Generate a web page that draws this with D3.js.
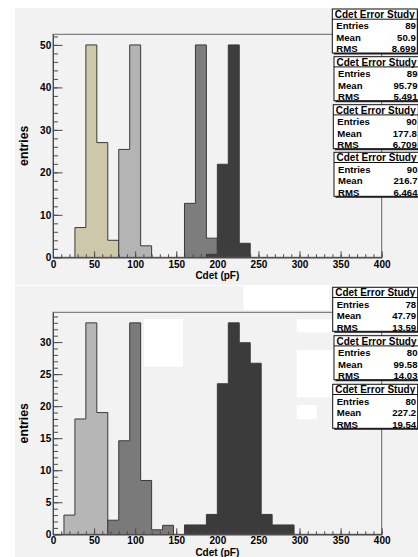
<!DOCTYPE html>
<html><head><meta charset="utf-8">
<script src="https://cdn.jsdelivr.net/npm/d3@7"></script>
<style>
body{margin:0;background:#fff}
svg{display:block}
text{font-family:"Liberation Sans",Arial,Helvetica,sans-serif;font-weight:bold;fill:#000}
</style>
</head><body>
<svg id="c" width="418" height="557"></svg>
<script>
// ---------- data ----------
const nBins = 30, xMin = 0, xMax = 400;
const xTicks = [0, 50, 100, 150, 200, 250, 300, 350, 400];
const xTitle = "Cdet (pF)";
const yTitle = "entries";
const statsTitle = "Cdet Error Study";
const statsLabels = ["Entries", "Mean", "RMS"];

// top panel histograms (first bin index + bin contents)
const topFirstBin = [2, 6, 12, 14];
const topH1 = [7, 50, 27, 4];
const topH2 = [25.4, 50, 2.7];
const topH3 = [12.7, 50, 4.5];
const topH4 = [0.7, 21.9, 50, 3.3];
const topYMax = 52.5;
const topYTicks = [0, 10, 20, 30, 40, 50];
const topEntries = ["89", "89", "90", "90"];
const topMean = ["50.9", "95.79", "177.8", "216.7"];
const topRMS = ["8.699", "5.491", "6.709", "6.464"];

// bottom panel histograms
const botFirstBin = [1, 5, 12];
const botH1 = [3, 18, 33, 19];
const botH2 = [2.2, 14.6, 33, 8.4, 0.7, 1.4];
const botH3 = [1.46, 1.46, 3.1, 23.5, 33, 29.9, 26.7, 3.1, 1.46, 1.46];
const botYMax = 34.65;
const botYTicks = [0, 5, 10, 15, 20, 25, 30];
const botEntries = ["78", "80", "80"];
const botMean = ["47.79", "99.58", "227.2"];
const botRMS = ["13.59", "14.03", "19.54"];

// ---------- drawing ----------
const svg = d3.select('#c');
const bw = (xMax - xMin) / nBins;
const padColor = '#f2f2f2';
const lineColor = '#4a4a4a';

function drawPanel(p) {
  const g = svg.append('g');
  g.append('rect').attr('x', 15).attr('y', p.padTop).attr('width', 403)
    .attr('height', p.padBottom - p.padTop).attr('fill', padColor);

  const x = d3.scaleLinear().domain([xMin, xMax]).range([53, 381.7]);
  const y = d3.scaleLinear().domain([0, p.yMax]).range([p.y0, p.yTop]);

  // histograms
  p.hists.forEach(h => {
    const pts = [[xMin + h.first * bw, 0]];
    h.values.forEach((v, i) => {
      const lo = xMin + (h.first + i) * bw;
      pts.push([lo, v], [lo + bw, v]);
    });
    pts.push([xMin + (h.first + h.values.length) * bw, 0]);
    g.append('path')
      .attr('d', d3.line().x(d => x(d[0])).y(d => y(d[1]))(pts))
      .attr('fill', h.color).attr('stroke', '#3a3a3a').attr('stroke-width', 1);
  });

  // decorative white patches (bottom panel)
  (p.patches || []).forEach(r => {
    g.append('rect').attr('x', r[0]).attr('y', r[1]).attr('width', r[2] - r[0])
      .attr('height', r[3] - r[1]).attr('fill', '#fff');
  });

  // frame
  g.append('rect').attr('x', x(xMin)).attr('y', p.yTop)
    .attr('width', x(xMax) - x(xMin)).attr('height', p.y0 - p.yTop)
    .attr('fill', 'none').attr('stroke', '#666').attr('stroke-width', 1);

  // x axis
  const xMinor = d3.range(xMin, xMax + 0.001, 10);
  g.append('g').attr('transform', `translate(0,${p.y0})`)
    .call(d3.axisBottom(x).tickValues(xMinor).tickSizeInner(-3).tickSizeOuter(0).tickFormat(''));
  const gx = g.append('g').attr('transform', `translate(0,${p.y0})`)
    .call(d3.axisBottom(x).tickValues(xTicks).tickSizeInner(-6).tickSizeOuter(0).tickPadding(p.xLabPad).tickFormat(d3.format('d')));
  gx.selectAll('text').attr('font-size', 10).style('font-family', '"Liberation Sans",Arial,sans-serif').style('font-weight', 'bold');

  // y axis
  const yMinor = d3.range(0, p.yMax, p.minorStep);
  g.append('g').attr('transform', `translate(${x(xMin)},0)`)
    .call(d3.axisLeft(y).tickValues(yMinor).tickSizeInner(-5).tickSizeOuter(0).tickFormat(''));
  const gy = g.append('g').attr('transform', `translate(${x(xMin)},0)`)
    .call(d3.axisLeft(y).tickValues(p.yTicks).tickSizeInner(-9.5).tickSizeOuter(0).tickPadding(1.8).tickFormat(d3.format('d')));
  gy.selectAll('text').attr('font-size', 10).style('font-family', '"Liberation Sans",Arial,sans-serif').style('font-weight', 'bold');

  g.selectAll('.domain').attr('stroke', lineColor);
  g.selectAll('.tick line').attr('stroke', lineColor);

  // titles
  g.append('text').attr('x', (x(xMin) + x(xMax)) / 2).attr('y', p.y0 + p.xTitleOff)
    .attr('text-anchor', 'middle').attr('dominant-baseline', 'central')
    .attr('font-size', 10).text(xTitle);
  g.append('text')
    .attr('transform', `translate(23.5,${(p.y0 + p.yTop) / 2}) rotate(-90)`)
    .attr('text-anchor', 'middle').attr('dominant-baseline', 'central')
    .attr('font-size', 12.3).text(yTitle);

  // stats boxes
  p.boxes.forEach((b, i) => {
    const bx = b[0], by = b[1], w = 85, h = 44;
    const sg = svg.append('g');
    sg.append('rect').attr('x', bx + 1.5).attr('y', by + 1.5).attr('width', w).attr('height', h).attr('fill', '#222');
    sg.append('rect').attr('x', bx).attr('y', by).attr('width', w).attr('height', h)
      .attr('fill', '#fff').attr('stroke', '#111').attr('stroke-width', 1);
    sg.append('line').attr('x1', bx).attr('x2', bx + w).attr('y1', by + 10.2).attr('y2', by + 10.2)
      .attr('stroke', '#111').attr('stroke-width', 1);
    sg.append('text').attr('x', bx + w / 2).attr('y', by + 5.3).attr('text-anchor', 'middle')
      .attr('dominant-baseline', 'central').attr('font-size', 10).text(statsTitle);
    const vals = [p.entries[i], p.mean[i], p.rms[i]];
    statsLabels.forEach((lab, k) => {
      const ty = by + 16.8 + k * 11.5;
      sg.append('text').attr('x', bx + 4).attr('y', ty).attr('dominant-baseline', 'central')
        .attr('font-size', 9.6).text(lab);
      sg.append('text').attr('x', bx + w - 1.5).attr('y', ty).attr('text-anchor', 'end')
        .attr('dominant-baseline', 'central').attr('font-size', 9.6).text(vals[k]);
    });
  });
}

drawPanel({
  padTop: 8, padBottom: 285, y0: 257.3, yTop: 34.3, yMax: topYMax,
  yTicks: topYTicks, minorStep: 2, xLabPad: 3.2, xTitleOff: 18.6,
  hists: [
    { first: topFirstBin[0], values: topH1, color: '#cdc8aa' },
    { first: topFirstBin[1], values: topH2, color: '#b4b4b4' },
    { first: topFirstBin[2], values: topH3, color: '#7d7d7d' },
    { first: topFirstBin[3], values: topH4, color: '#3d3d3d' }
  ],
  boxes: [[332.3, 9], [334, 56.7], [333.3, 104.7], [334, 152.3]],
  entries: topEntries, mean: topMean, rms: topRMS
});

drawPanel({
  padTop: 286, padBottom: 557, y0: 534.3, yTop: 312.3, yMax: botYMax,
  yTicks: botYTicks, minorStep: 1, xLabPad: 3, xTitleOff: 18.2,
  hists: [
    { first: botFirstBin[0], values: botH1, color: '#b6b6b6' },
    { first: botFirstBin[1], values: botH2, color: '#7a7a7a' },
    { first: botFirstBin[2], values: botH3, color: '#3b3b3b' }
  ],
  patches: [[243.3, 286, 329.5, 310], [144, 319, 183, 366.7], [296.7, 319.3, 333, 332.3],
            [296.7, 350, 333, 397.3], [296.7, 405, 316.7, 419.3]],
  boxes: [[332.7, 287.3], [334, 335.7], [332.7, 384.3]],
  entries: botEntries, mean: botMean, rms: botRMS
});
</script>
</body></html>
